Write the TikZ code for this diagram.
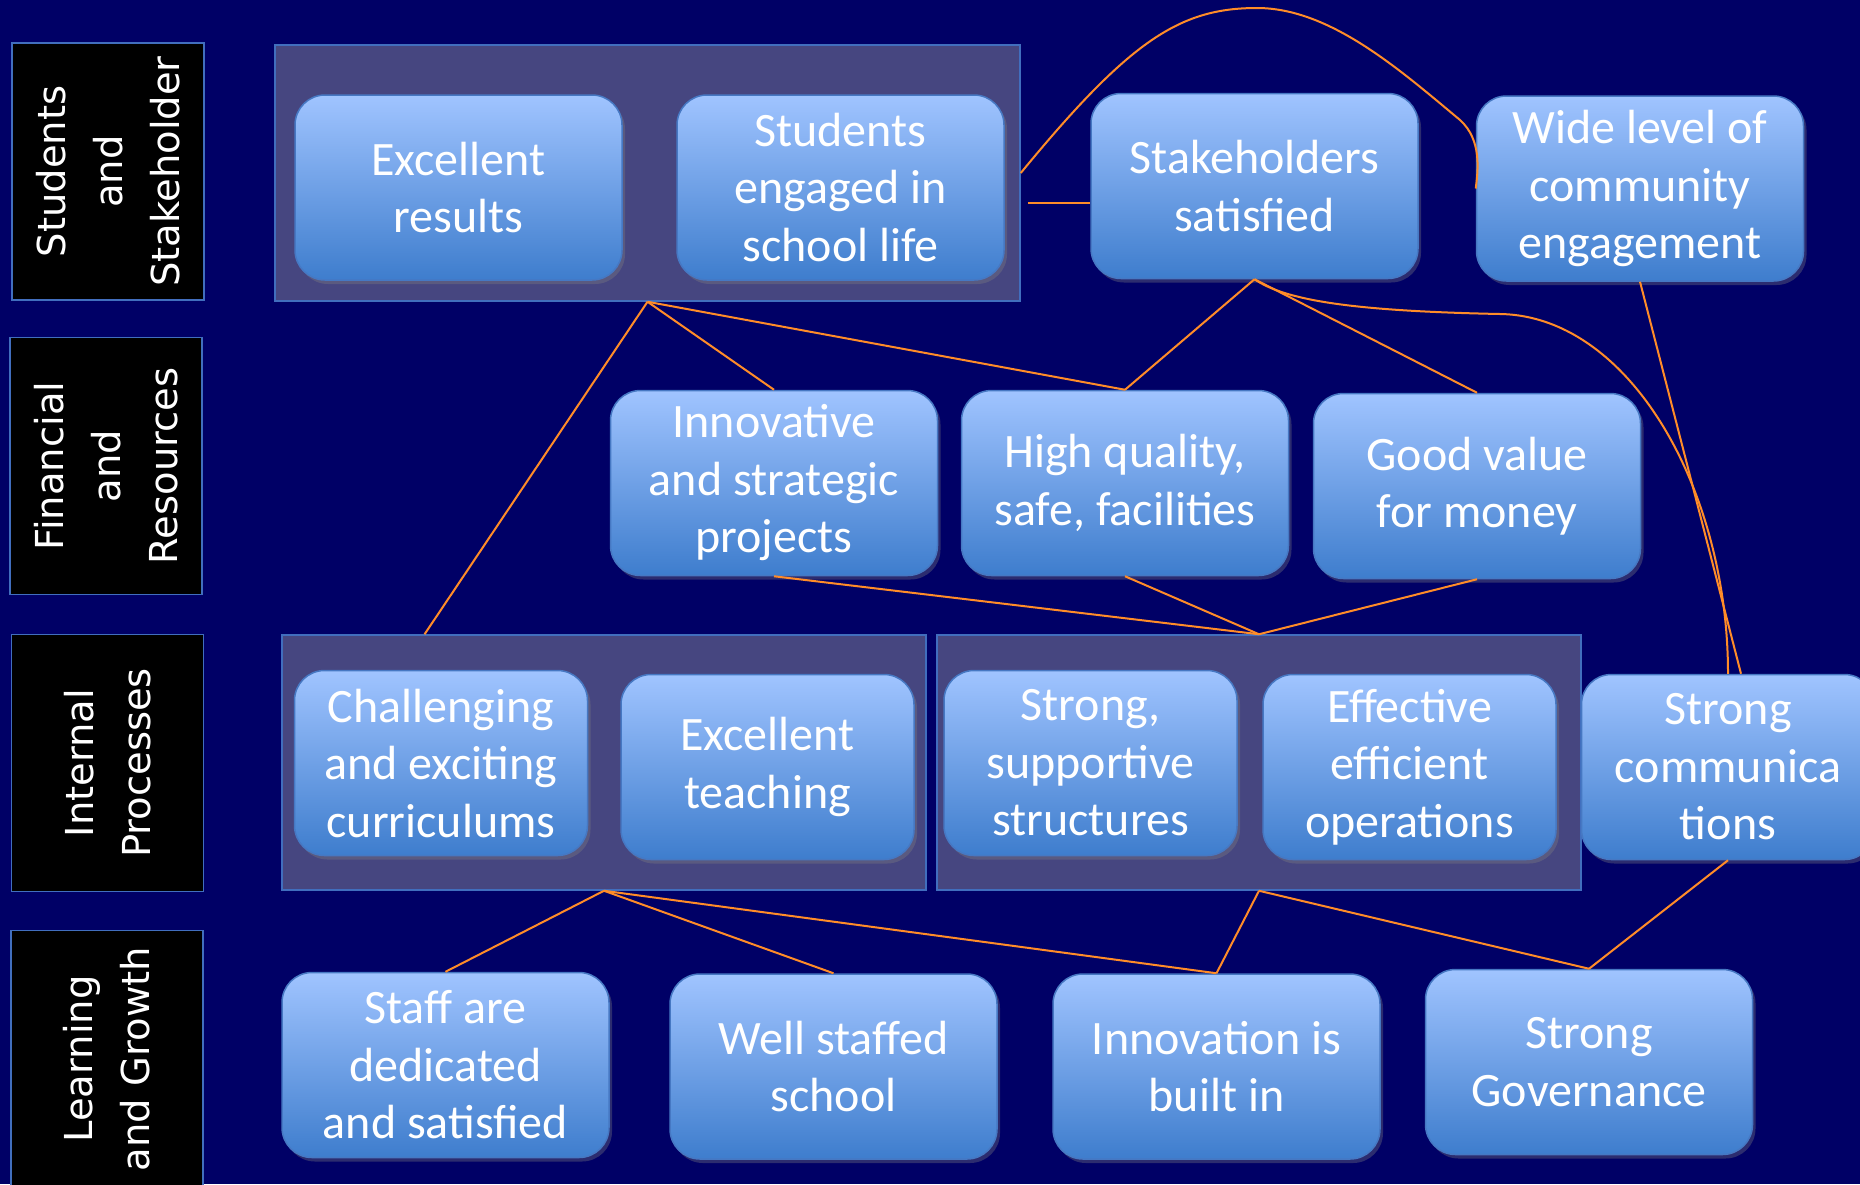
\documentclass[tikz,border=0pt]{standalone}
\usepackage{fontspec}
\setmainfont{Carlito}
\newfontfamily\labfont{DejaVu Sans}
\usetikzlibrary{calc,shadows}
\definecolor{bg}{RGB}{0,0,102}
\definecolor{grpfill}{RGB}{70,70,128}
\definecolor{grpline}{RGB}{65,110,190}
\definecolor{boxtop}{RGB}{160,196,255}
\definecolor{boxbot}{RGB}{62,125,205}
\definecolor{boxline}{RGB}{70,120,195}
\definecolor{conn}{RGB}{255,140,40}
\begin{document}
\begin{tikzpicture}[x=1pt,y=-1pt,
  card/.style={rounded corners=30pt, top color=boxtop, bottom color=boxbot,
    draw=boxline, line width=1.5pt, minimum width=327pt, minimum height=185pt,
    align=center, text=white, font=\fontsize{48}{57.5}\selectfont, inner sep=0pt,
    drop shadow={shadow xshift=3pt, shadow yshift=-4pt, opacity=0.35}},
  narrow/.style={minimum width=293pt},
  grp/.style={fill=grpfill, draw=grpline, line width=1.5pt, inner sep=0pt},
  lab/.style={rotate=90, fill=black, draw=grpline, line width=1.5pt,
    minimum width=257pt, minimum height=192pt, inner sep=0pt,
    text=white, align=center, font=\labfont\fontsize{38.5}{57}\selectfont},
  link/.style={draw=conn, line width=2pt}]
\clip (0,0) rectangle (1860,1184);
\fill[bg] (0,0) rectangle (1860,1184);

% row labels
\node[lab] (l1) at (108,171.5) {Students\\and\\Stakeholder};
\node[lab] (l2) at (106,466) {Financial\\and\\Resources};
\node[lab] (l3) at (107.5,763) {Internal\\Processes};
\node[lab] (l4) at (107,1059) {Learning\\and Growth};

% group boxes
\node[grp, minimum width=745pt, minimum height=256pt] (gtop) at (647.5,173) {};
\node[grp, minimum width=644pt, minimum height=255pt] (g1) at (604,762.5) {};
\node[grp, minimum width=644pt, minimum height=255pt] (g2) at (1259,762.5) {};

% cards
\node[card] (exc) at (458.5,187.5) {Excellent\\results};
\node[card] (stu) at (840.5,187.5) {Students\\engaged in\\school life};
\node[card] (stake) at (1254.5,186) {Stakeholders\\satisfied};
\node[card] (wide) at (1640,188.5) {Wide level of\\community\\engagement};

\node[card] (innov) at (774,483) {Innovative\\and strategic\\projects};
\node[card] (high) at (1125,483) {High quality,\\safe, facilities};
\node[card] (good) at (1477,486) {Good value\\for money};

\node[card,narrow] (chal) at (441,763) {Challenging\\and exciting\\curriculums};
\node[card,narrow] (teach) at (767.5,767) {Excellent\\teaching};
\node[card,narrow] (struct) at (1090.5,763) {Strong,\\supportive\\structures};
\node[card,narrow] (eff) at (1409.5,767) {Effective\\efficient\\operations};
\node[card,narrow] (comm) at (1728,767) {Strong\\communica\\tions};

\node[card] (staff) at (445.5,1065) {Staff are\\dedicated\\and satisfied};
\node[card] (well) at (833.5,1066.5) {Well staffed\\school};
\node[card] (innb) at (1216.5,1066.5) {Innovation is\\built in};
\node[card] (gov) at (1589,1062) {Strong\\Governance};

% connector end points
\coordinate (g1a) at ($(g1.north west)!0.222!(g1.north east)$);
\coordinate (commb) at ($(comm.north)+(13,0)$);

% connectors
\draw[link] (gtop.south) -- (g1a);
\draw[link] (gtop.south) -- (innov.north);
\draw[link] (gtop.south) -- (high.north);
\draw[link] (stake.south) -- (high.north);
\draw[link] (stake.south) -- (good.north);
\draw[link] (stake.south) .. controls (1285,300) and (1350,311) .. (1500,314)
  .. controls (1630,316) and (1728,490) .. (comm.north);
\draw[link] (wide.south) -- (commb);
\draw[link] (gtop.east) .. controls (1130,40) and (1180,8) .. (1257,8)
  .. controls (1330,8) and (1400,70) .. (1460,120)
  .. controls (1482,140) and (1478,170) .. (wide.west);
\draw[link] ($(gtop.east)+(7,30)$) -- ($(stake.west)+(0,17)$);
\draw[link] (innov.south) -- (g2.north);
\draw[link] (high.south) -- (g2.north);
\draw[link] (good.south) -- (g2.north);
\draw[link] (g1.south) -- (staff.north);
\draw[link] (g1.south) -- (well.north);
\draw[link] (g1.south) -- (innb.north);
\draw[link] (g2.south) -- (innb.north);
\draw[link] (g2.south) -- (gov.north);
\draw[link] (comm.south) -- (gov.north);
\end{tikzpicture}
\end{document}
